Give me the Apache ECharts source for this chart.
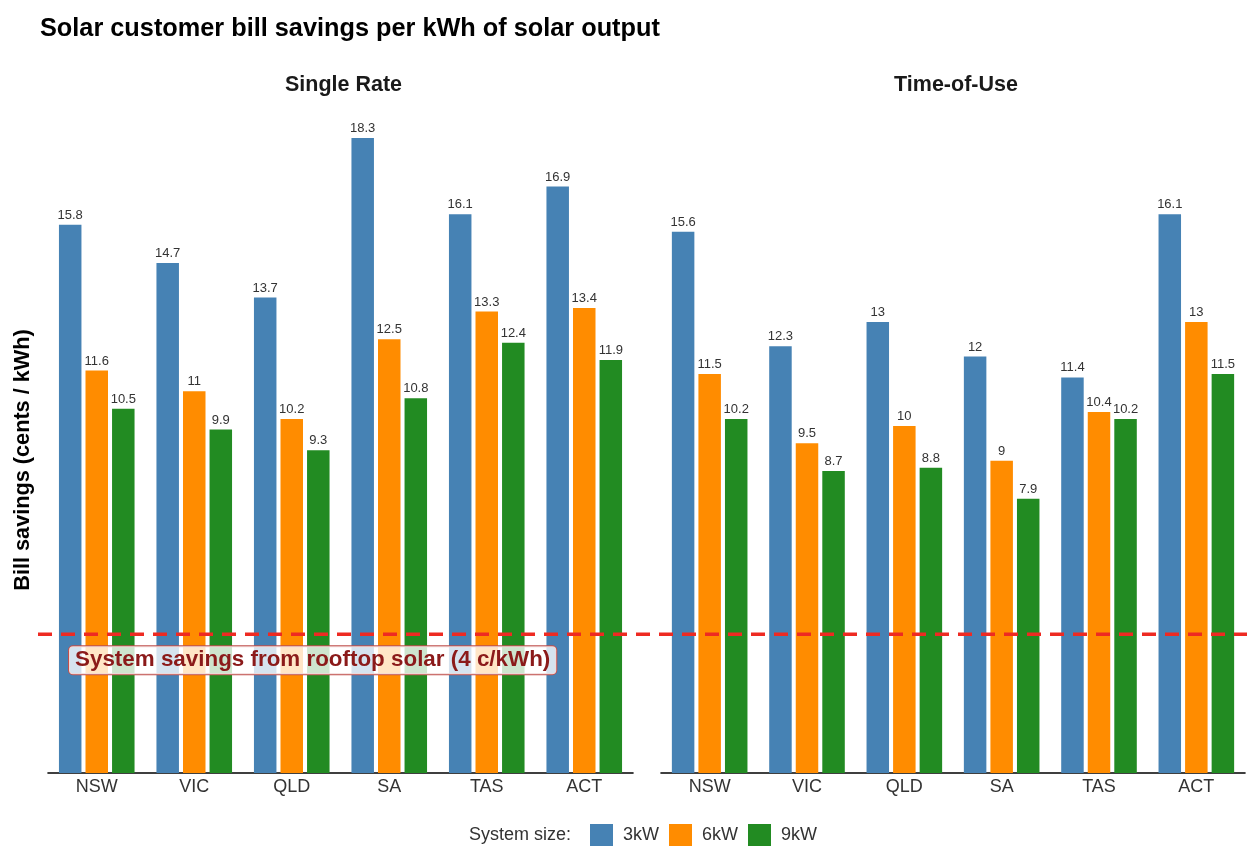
<!DOCTYPE html>
<html>
<head>
<meta charset="utf-8">
<title>Solar customer bill savings</title>
<script src="https://cdn.jsdelivr.net/npm/echarts@6/dist/echarts.min.js"></script>
<style>
  html, body { margin: 0; padding: 0; background: #ffffff; }
  #chart { width: 1247px; height: 846px; }
</style>
</head>
<body>
<div id="chart"></div>
<script>
// States shown along each panel's x axis
const states = ['NSW', 'VIC', 'QLD', 'SA', 'TAS', 'ACT'];
const tariffs = ['Single Rate', 'Time-of-Use'];
const sizes = ['3kW', '6kW', '9kW'];

// Bill savings (cents / kWh) — Single Rate tariff
const single3kW = [15.8, 14.7, 13.7, 18.3, 16.1, 16.9];
const single6kW = [11.6, 11.0, 10.2, 12.5, 13.3, 13.4];
const single9kW = [10.5, 9.9, 9.3, 10.8, 12.4, 11.9];

// Bill savings (cents / kWh) — Time-of-Use tariff
const tou3kW = [15.6, 12.3, 13.0, 12.0, 11.4, 16.1];
const tou6kW = [11.5, 9.5, 10.0, 9.0, 10.4, 13.0];
const tou9kW = [10.2, 8.7, 8.8, 7.9, 10.2, 11.5];

// System-wide saving from rooftop solar (c/kWh)
const systemSaving = 4;
const systemSavingLabel = 'System savings from rooftop solar (4 c/kWh)';

const colors = { '3kW': '#4682B4', '6kW': '#FF8C00', '9kW': '#228B22' };
const FONT = '"Liberation Sans", Arial, Helvetica, sans-serif';

const panelData = [
  [single3kW, single6kW, single9kW],
  [tou3kW, tou6kW, tou9kW]
];

const grids = [
  { left: 48, width: 585, top: 79, height: 694 },
  { left: 661, width: 584, top: 79, height: 694 }
];

const xAxes = grids.map((g, i) => ({
  type: 'category',
  gridIndex: i,
  data: states,
  axisLine: { show: true, lineStyle: { color: '#000000', width: 1.6 } },
  axisTick: { show: false },
  axisLabel: { color: '#333333', fontSize: 18, fontFamily: FONT, margin: 5 },
  splitLine: { show: false }
}));

const yAxes = grids.map((g, i) => ({
  type: 'value',
  gridIndex: i,
  min: 0,
  max: 20,
  axisLine: { show: false },
  axisTick: { show: false },
  axisLabel: { show: false },
  splitLine: { show: false }
}));

const series = [];
panelData.forEach((panel, p) => {
  panel.forEach((values, s) => {
    series.push({
      name: sizes[s],
      type: 'bar',
      xAxisIndex: p,
      yAxisIndex: p,
      data: values,
      barWidth: 22.5,
      barGap: '18%',
      itemStyle: { color: colors[sizes[s]] },
      label: {
        show: true,
        position: 'top',
        distance: 3,
        color: '#333333',
        fontSize: 13,
        fontFamily: FONT
      },
      emphasis: { disabled: true }
    });
  });
});

const titles = [
  {
    text: 'Solar customer bill savings per kWh of solar output',
    left: 35, top: 12,
    textStyle: { fontSize: 25.3, fontWeight: 'bold', color: '#000000', fontFamily: FONT }
  }
].concat(grids.map((g, i) => ({
  text: tariffs[i],
  left: g.left + g.width / 2 - 2,
  top: 69,
  textAlign: 'center',
  textStyle: { fontSize: 21.5, fontWeight: 'bold', color: '#1a1a1a', fontFamily: FONT }
})));

const chart = echarts.init(document.getElementById('chart'), null, { renderer: 'canvas' });

chart.setOption({
  backgroundColor: '#ffffff',
  animation: false,
  title: titles,
  grid: grids,
  xAxis: xAxes,
  yAxis: yAxes,
  legend: {
    data: sizes,
    left: 590,
    top: 824,
    padding: 0,
    icon: 'rect',
    itemWidth: 23,
    itemHeight: 22,
    itemGap: 10,
    textStyle: { fontSize: 18, color: '#333333', fontFamily: FONT, padding: [0, 0, 0, 5] },
    selectedMode: false
  },
  series: series
});

// Reference line at the system saving level, placed through the value scale
const lineY = chart.convertToPixel({ yAxisIndex: 0 }, systemSaving);

chart.setOption({
  graphic: [
    {
      type: 'text',
      x: 23,
      y: 460,
      rotation: Math.PI / 2,
      style: {
        text: 'Bill savings (cents / kWh)',
        fill: '#000000',
        font: 'bold 21.7px ' + FONT,
        textAlign: 'center',
        textVerticalAlign: 'middle'
      }
    },
    {
      type: 'line',
      shape: { x1: 38, y1: lineY, x2: 1247, y2: lineY },
      style: { stroke: '#ee2a22', lineWidth: 3.5, lineDash: [14, 9] },
      z: 10
    },
    {
      type: 'text',
      x: 69,
      y: lineY + 12,
      z: 11,
      style: {
        text: systemSavingLabel,
        fill: '#8b1a1a',
        font: 'bold 22.4px ' + FONT,
        backgroundColor: 'rgba(255,255,255,0.78)',
        borderColor: '#c0504d',
        borderWidth: 1,
        borderRadius: 4,
        padding: [3, 6, 3, 6]
      }
    },
    {
      type: 'text',
      x: 571,
      y: 835,
      style: {
        text: 'System size:',
        fill: '#333333',
        font: '18px ' + FONT,
        textAlign: 'right',
        textVerticalAlign: 'middle'
      }
    }
  ]
});
</script>
</body>
</html>
